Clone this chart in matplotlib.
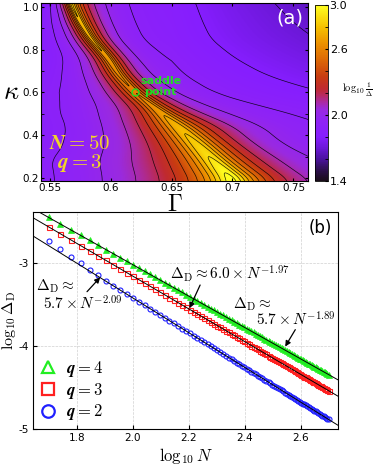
import numpy as np
import matplotlib
matplotlib.use("Agg")
import matplotlib.pyplot as plt
from matplotlib.colors import LinearSegmentedColormap
from matplotlib.lines import Line2D

plt.rcParams['mathtext.fontset'] = 'cm'
plt.rcParams['axes.unicode_minus'] = False
plt.rcParams['font.size'] = 7.5

# ---------------- panel (a): log10(1/Delta) over (Gamma, kappa) ----------------
# ridge of the gap map: position, height, and fall-off on each side
ridge_kappa = [0.19, 0.28, 0.36, 0.44, 0.52, 0.60, 0.68, 0.76, 0.85, 0.93, 1.02]
ridge_gamma = [0.700, 0.684, 0.670, 0.655, 0.638, 0.620, 0.607, 0.598, 0.584, 0.575, 0.567]
ridge_peak = [3.02, 2.88, 2.80, 2.72, 2.60, 2.52, 2.56, 2.63, 2.70, 2.76, 2.80]
fall_left = [1.44, 1.30, 1.34, 1.29, 1.0, 1.0, 1.05, 1.10, 1.15, 1.22, 1.30]
width_left = [0.011, 0.010, 0.010, 0.009, 0.0055, 0.0053, 0.0044, 0.0035, 0.0029, 0.0025, 0.0020]
fall_right = [1.74, 1.51, 1.48, 1.29, 1.0, 1.0, 1.0, 1.0, 1.0, 1.0, 1.0]
width_right = [0.011, 0.010, 0.010, 0.009, 0.0049, 0.0041, 0.0033, 0.0027, 0.0024, 0.0024, 0.0025]
# background level far from the ridge
bg_gamma = [0.543, 0.65, 0.762]
bg_kappa = [0.19, 0.60, 1.02]
bg_values = [[1.72, 1.85, 1.88],
             [1.70, 1.78, 1.74],
             [1.60, 1.70, 1.58]]
saddle = (0.620, 0.604)

# ---------------- panel (b): gap scaling ----------------
N_values = [50, 55, 60, 65, 70, 75, 80, 85, 90, 95,
            100, 105, 110, 115, 120, 125, 130, 135, 140, 145,
            150, 155, 160, 165, 170, 175, 180, 185, 190, 195,
            200, 205, 210, 215, 220, 225, 230, 235, 240, 245,
            250, 255, 260, 265, 270, 275, 280, 285, 290, 295,
            300, 305, 310, 315, 320, 325, 330, 335, 340, 345,
            350, 355, 360, 365, 370, 375, 380, 385, 390, 395,
            400, 405, 410, 415, 420, 425, 430, 435, 440, 445,
            450, 455, 460, 465, 470, 475, 480, 485, 490, 495,
            500]
logD_q4 = [-2.455, -2.533, -2.605, -2.671, -2.731, -2.788, -2.841, -2.891, -2.938, -2.982,
           -3.024, -3.064, -3.102, -3.139, -3.174, -3.207, -3.239, -3.270, -3.300, -3.329,
           -3.357, -3.384, -3.410, -3.435, -3.460, -3.483, -3.507, -3.529, -3.551, -3.572,
           -3.593, -3.613, -3.633, -3.652, -3.671, -3.690, -3.708, -3.725, -3.743, -3.760,
           -3.776, -3.792, -3.808, -3.824, -3.839, -3.854, -3.869, -3.884, -3.898, -3.912,
           -3.926, -3.939, -3.953, -3.966, -3.979, -3.992, -4.004, -4.016, -4.029, -4.041,
           -4.052, -4.064, -4.076, -4.087, -4.098, -4.109, -4.120, -4.131, -4.141, -4.152,
           -4.162, -4.172, -4.182, -4.192, -4.202, -4.212, -4.221, -4.231, -4.240, -4.250,
           -4.259, -4.268, -4.277, -4.286, -4.294, -4.303, -4.312, -4.320, -4.329, -4.337,
           -4.345]
logD_q3 = [-2.569, -2.650, -2.725, -2.793, -2.857, -2.916, -2.971, -3.023, -3.072, -3.118,
           -3.162, -3.204, -3.243, -3.281, -3.318, -3.353, -3.386, -3.419, -3.450, -3.480,
           -3.509, -3.537, -3.564, -3.590, -3.616, -3.641, -3.665, -3.688, -3.711, -3.733,
           -3.755, -3.776, -3.797, -3.817, -3.836, -3.856, -3.874, -3.893, -3.911, -3.929,
           -3.946, -3.963, -3.979, -3.996, -4.012, -4.027, -4.043, -4.058, -4.073, -4.087,
           -4.102, -4.116, -4.130, -4.144, -4.157, -4.170, -4.183, -4.196, -4.209, -4.221,
           -4.234, -4.246, -4.258, -4.270, -4.281, -4.293, -4.304, -4.315, -4.326, -4.337,
           -4.348, -4.359, -4.369, -4.379, -4.390, -4.400, -4.410, -4.420, -4.429, -4.439,
           -4.449, -4.458, -4.467, -4.477, -4.486, -4.495, -4.504, -4.513, -4.522, -4.530,
           -4.539]
logD_q2 = [-2.735, -2.833, -2.926, -3.008, -3.082, -3.151, -3.215, -3.274, -3.328, -3.378,
           -3.424, -3.468, -3.511, -3.551, -3.590, -3.627, -3.662, -3.697, -3.730, -3.761,
           -3.792, -3.822, -3.851, -3.879, -3.906, -3.932, -3.958, -3.983, -4.007, -4.030,
           -4.053, -4.076, -4.098, -4.119, -4.140, -4.160, -4.180, -4.200, -4.219, -4.238,
           -4.256, -4.274, -4.291, -4.309, -4.326, -4.342, -4.359, -4.375, -4.391, -4.406,
           -4.421, -4.436, -4.451, -4.466, -4.480, -4.494, -4.508, -4.521, -4.535, -4.548,
           -4.561, -4.574, -4.587, -4.599, -4.612, -4.624, -4.636, -4.648, -4.659, -4.671,
           -4.682, -4.694, -4.705, -4.716, -4.727, -4.737, -4.748, -4.759, -4.769, -4.779,
           -4.789, -4.799, -4.809, -4.819, -4.829, -4.838, -4.848, -4.857, -4.867, -4.876,
           -4.885]
fit_prefactor = [5.7, 6.0, 5.7]
fit_exponent = [-1.89, -1.97, -2.09]

# ---------------- build the map ----------------
g = np.linspace(0.543, 0.762, 420)
k = np.linspace(0.186, 1.019, 340)
G, K = np.meshgrid(g, k)


def along_kappa(values, n=25):
    # ridge readings on the kappa grid, lightly smoothed so the contours have no kinks
    prof = np.interp(k, ridge_kappa, values)
    padded = np.pad(prof, n, mode='edge')
    return np.convolve(padded, np.ones(n) / n, mode='same')[n:-n][:, None]


s = G - along_kappa(ridge_gamma)
pk = along_kappa(ridge_peak)
left = s < 0
B = np.where(left, along_kappa(fall_left), along_kappa(fall_right))
w = np.where(left, along_kappa(width_left), along_kappa(width_right))
ridge = pk - B * 0.5 * np.log10(1 + (s / w) ** 2)
rows = np.array([np.interp(g, bg_gamma, r) for r in bg_values])
bg = np.array([np.interp(k, bg_kappa, rows[:, j]) for j in range(len(g))]).T
F = np.log10(10 ** ridge + 10 ** bg)

cmap = LinearSegmentedColormap.from_list('gap', [
    (0.0, '#1a0d1a'), (0.0625, '#2e1050'), (0.125, '#4c12a0'), (0.1875, '#6c18d8'),
    (0.25, '#861eff'), (0.344, '#9024f4'), (0.406, '#9a2ae0'), (0.45, '#ac2aa0'),
    (0.4875, '#b82a60'), (0.525, '#c02a30'), (0.594, '#c83c10'), (0.6875, '#dc6806'),
    (0.78, '#ec9000'), (0.875, '#f6c000'), (1.0, '#ffff20')])

fig = plt.figure(figsize=(3.73, 4.65), dpi=100)
ax1 = fig.add_axes([0.110, 0.611, 0.716, 0.383])
cax = fig.add_axes([0.845, 0.611, 0.035, 0.378])
ax2 = fig.add_axes([0.0885, 0.0774, 0.818, 0.4666])

im = ax1.imshow(F, extent=[g[0], g[-1], k[0], k[-1]], origin='lower', aspect='auto',
                cmap=cmap, vmin=1.4, vmax=3.0, interpolation='bilinear')
ax1.contour(G, K, F, levels=np.arange(1.6, 3.01, 0.1), colors='k', linewidths=0.5, alpha=0.85)
ax1.set_xlim(g[0], g[-1])
ax1.set_ylim(k[0], k[-1])
ax1.set_xticks([0.55, 0.6, 0.65, 0.7, 0.75])
ax1.set_xticklabels(['0.55', '0.6', '0.65', '0.7', '0.75'])
ax1.set_yticks([0.2, 0.4, 0.6, 0.8, 1.0])
ax1.set_yticklabels(['0.2', '0.4', '0.6', '0.8', '1.0'])
ax1.set_yticks(np.arange(0.2, 1.01, 0.1), minor=True)
ax1.tick_params(direction='in', which='both', right=True, top=True, length=2.5, pad=1.5)
ax1.set_xlabel(r'$\Gamma$', fontsize=17, labelpad=-1)
ax1.set_ylabel(r'$\kappa$', fontsize=19, rotation=0, labelpad=8, va='center')
ax1.plot(*saddle, 'o', mfc='none', mec='#22dd22', ms=5, mew=1)
ax1.text(0.641, 0.654, 'saddle', color='#22dd22', fontsize=8, fontweight='bold', ha='center', va='center')
ax1.text(0.641, 0.602, 'point', color='#22dd22', fontsize=8, fontweight='bold', ha='center', va='center')
ax1.text(0.5745, 0.364, r'$\mathbfit{N}\mathbf{=50}$', color='#f2d32a', fontsize=15, ha='center', va='center')
ax1.text(0.5745, 0.270, r'$\mathbfit{q}\mathbf{=3}$', color='#f2d32a', fontsize=15, ha='center', va='center')
ax1.text(0.93, 0.915, '(a)', color='white', fontsize=14, transform=ax1.transAxes, ha='center', va='center')

cb = fig.colorbar(im, cax=cax)
cb.set_ticks([1.4, 2.0, 2.6, 3.0])
cb.set_ticklabels(['1.4', '2.0', '2.6', '3.0'])
cb.ax.set_yticks(np.arange(1.4, 3.01, 0.2), minor=True)
cb.ax.tick_params(direction='in', which='both', length=2.5, pad=1, labelsize=8)
cb.outline.set_linewidth(0.6)
cax.text(3.25, 0.52, r'$\log_{10}\frac{1}{\Delta}$', transform=cax.transAxes, fontsize=7.5,
         ha='center', va='center')

# ---------------- panel (b) ----------------
logN = np.log10(N_values)
xl = np.array([1.643, 2.733])
ax2.plot(logN, logD_q4, '^', color='#22ee22', ms=3.8, mew=0.5, mec='#22ee22', zorder=3)
ax2.plot(logN, logD_q3, 's', mfc='none', mec='#ff2020', ms=3.6, mew=0.8, zorder=3)
ax2.plot(logN, logD_q2, 'o', mfc='none', mec='#2020ff', ms=3.6, mew=0.8, zorder=3)
for a, b in zip(fit_prefactor, fit_exponent):
    ax2.plot(xl, np.log10(a) + b * xl, '-', color='k', lw=0.7, zorder=4)

ax2.set_xlim(*xl)
ax2.set_ylim(-5, -2.39)
ax2.set_xticks([1.8, 2.0, 2.2, 2.4, 2.6])
ax2.set_yticks([-5, -4, -3])
ax2.set_yticklabels(['-5', '-4', '-3'])
ax2.grid(True, ls='--', lw=0.5, color='#d0d0d0')
ax2.tick_params(direction='in', length=3, pad=3)
ax2.set_xlabel(r'$\log_{10}N$', fontsize=12, labelpad=2)
ax2.set_ylabel(r'$\log_{10}\Delta_{\rm D}$', fontsize=11.5, labelpad=0)
ax2.text(0.94, 0.926, '(b)', fontsize=12, transform=ax2.transAxes, ha='center', va='center')

aprops = dict(arrowstyle='-|>', color='k', lw=0.9, mutation_scale=8, shrinkA=0, shrinkB=0)
ax2.text(2.347, -3.13, r'$\Delta_{\rm D}\approx6.0\times N^{-1.97}$', fontsize=11, ha='center', va='center')
ax2.annotate('', xy=(2.202, -3.547), xytext=(2.240, -3.268), arrowprops=aprops)
ax2.text(2.358, -3.50, r'$\Delta_{\rm D}\approx$', fontsize=11, ha='left', va='center')
ax2.text(2.441, -3.685, r'$5.7\times N^{-1.89}$', fontsize=11, ha='left', va='center')
ax2.annotate('', xy=(2.544, -4.008), xytext=(2.580, -3.805), arrowprops=aprops)
ax2.text(1.652, -3.285, r'$\Delta_{\rm D}\approx$', fontsize=11, ha='left', va='center')
ax2.text(1.679, -3.49, r'$5.7\times N^{-2.09}$', fontsize=11, ha='left', va='center')
ax2.annotate('', xy=(1.883, -3.175), xytext=(1.836, -3.348), arrowprops=aprops)

handles = [Line2D([], [], ls='none', marker='^', mfc='none', mec='#22ee22', ms=9, mew=1.6),
           Line2D([], [], ls='none', marker='s', mfc='none', mec='#ff2020', ms=8, mew=1.6),
           Line2D([], [], ls='none', marker='o', mfc='none', mec='#2020ff', ms=9, mew=1.6)]
labels = [r'$\mathbfit{q}\mathbf{=4}$', r'$\mathbfit{q}\mathbf{=3}$', r'$\mathbfit{q}\mathbf{=2}$']
ax2.legend(handles, labels, loc='lower left', frameon=False, fontsize=12,
           handlelength=1.0, handletextpad=0.6, labelspacing=0.1,
           bbox_to_anchor=(0.0, 0.0), borderaxespad=0.0)

fig.savefig('out.png', dpi=100)
